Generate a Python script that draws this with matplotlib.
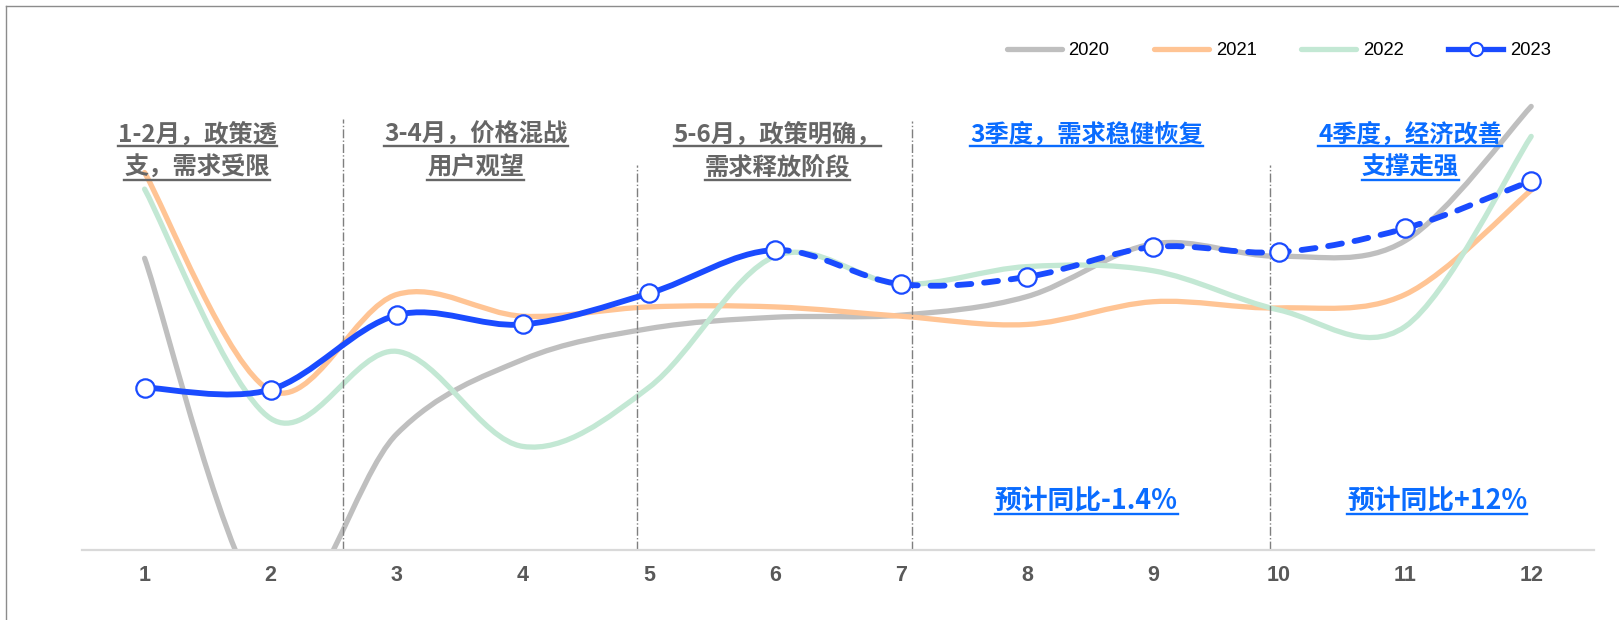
import numpy as np
import matplotlib
matplotlib.use("Agg")
import matplotlib.pyplot as plt
from matplotlib.path import Path
from matplotlib.patches import PathPatch
from matplotlib.lines import Line2D

plt.rcParams['font.family'] = ['Noto Sans CJK SC', 'DejaVu Sans']

# 月度数据（相对指数）
months = list(range(1, 13))
month_labels = [str(m) for m in months]
years = ['2020', '2021', '2022', '2023']
sales_2020 = [28.2, -6.0, 11.2, 18.4, 21.4, 22.5, 22.7, 24.5, 29.6, 28.4, 29.9, 42.9]
sales_2021 = [36.5, 15.4, 24.7, 22.6, 23.5, 23.5, 22.6, 21.8, 24.0, 23.4, 24.7, 34.8]
sales_2022 = [34.9, 12.7, 19.2, 10.0, 15.7, 28.4, 25.7, 27.4, 27.0, 23.2, 21.6, 40.0]
sales_2023 = [15.7, 15.5, 22.7, 21.8, 24.8, 29.0, 25.7, 26.4, 29.3, 28.8, 31.1, 35.7]
last_actual = 6  # 6月以后为预测

# 布局坐标按 1568x600 的参考网格量取
W, H = 1568, 600
GRAY_TXT = '#666666'
BLUE_TXT = '#0A6CFF'
colors = {'2020': '#BFBFBF', '2021': '#FFC494', '2022': '#C3E8D4', '2023': '#1A4BFF'}


def smooth_path(xs, ys, start, end):
    # Excel 风格的平滑线 (Catmull-Rom -> Bezier)
    pts = np.column_stack([xs, ys]).astype(float)
    n = len(pts)
    verts = [pts[start]]
    codes = [Path.MOVETO]
    for i in range(start, end):
        p0 = pts[max(i - 1, 0)]
        p1 = pts[i]
        p2 = pts[i + 1]
        p3 = pts[min(i + 2, n - 1)]
        verts += [p1 + (p2 - p0) / 6, p2 - (p3 - p1) / 6, p2]
        codes += [Path.CURVE4] * 3
    return Path(verts, codes)


fig = plt.figure(figsize=(16.19, 6.2), dpi=100)
ax = fig.add_axes([79 / W, (H - 532) / H, (1544 - 79) / W, (532 - 60) / H])

for yr, vals in zip(years[:3], [sales_2020, sales_2021, sales_2022]):
    p = smooth_path(months, vals, 0, len(months) - 1)
    ax.add_patch(PathPatch(p, fill=False, edgecolor=colors[yr], lw=3.8,
                           capstyle='round', joinstyle='round'))

solid = smooth_path(months, sales_2023, 0, last_actual - 1)
dashed = smooth_path(months, sales_2023, last_actual - 1, len(months) - 1)
ax.add_patch(PathPatch(solid, fill=False, edgecolor=colors['2023'], lw=4.2,
                       capstyle='round', zorder=4))
ax.add_patch(PathPatch(dashed, fill=False, edgecolor=colors['2023'], lw=4.2,
                       linestyle=(0, (2.4, 2.2)), capstyle='round', zorder=4))
ax.plot(months, sales_2023, 'o', ms=13.2, mfc='white', mec=colors['2023'],
        mew=1.6, zorder=5)

ax.set_xlim(0.5, 12.5)
ax.set_ylim(0, 47.2)
ax.set_xticks(months)
ax.set_xticklabels(month_labels, fontsize=15.5, fontweight='bold',
                   color='#595959', family=['Liberation Sans', 'DejaVu Sans'])
ax.tick_params(axis='x', length=0, pad=11)
ax.set_yticks([])
for s in ['top', 'left', 'right']:
    ax.spines[s].set_visible(False)
ax.spines['bottom'].set_color('#D9D9D9')
ax.spines['bottom'].set_linewidth(1.6)

# 阶段分隔线
for xd, top in [(2.57, 41.7), (4.91, 37.2), (7.09, 41.5), (9.93, 37.2)]:
    ax.plot([xd, xd], [0, top], color='#7F7F7F', lw=1, ls='-.', zorder=1)

# 图例
handles = [Line2D([], [], color=colors[y], lw=3.8, solid_capstyle='round') for y in years[:3]]
handles.append(Line2D([], [], color=colors['2023'], lw=3.8, marker='o', ms=9.5,
                      mfc='white', mec=colors['2023'], mew=1.5))
fig.legend(handles, years, ncol=4, loc='center right',
           bbox_to_anchor=(1502 / W, 1 - 49 / H), frameon=False,
           prop={'family': 'Liberation Sans', 'size': 13.3},
           handlelength=3.0, handletextpad=0.35, columnspacing=2.4,
           borderpad=0, borderaxespad=0)

# 标注文字（带下划线）
notes = [
    (191, 130, '1-2月，政策透', GRAY_TXT, 17.5),
    (191, 162, '支，需求受限', GRAY_TXT, 17.5),
    (461, 130, '3-4月，价格混战', GRAY_TXT, 17.5),
    (461, 162, '用户观望', GRAY_TXT, 17.5),
    (753, 130, '5-6月，政策明确，', GRAY_TXT, 17.5),
    (753, 162, '需求释放阶段', GRAY_TXT, 17.5),
    (1052, 130, '3季度，需求稳健恢复', BLUE_TXT, 17.5),
    (1366, 130, '4季度，经济改善', BLUE_TXT, 17.5),
    (1366, 162, '支撑走强', BLUE_TXT, 17.5),
    (1052, 484, '预计同比-1.4%', BLUE_TXT, 19.3),
    (1392, 484, '预计同比+12%', BLUE_TXT, 19.3),
]
texts = []
for x, y, s, c, fs in notes:
    t = fig.text(x / W, 1 - y / H, s, ha='center', va='center',
                 fontsize=fs, fontweight='bold', color=c)
    texts.append((t, fs))

fig.canvas.draw()
r = fig.canvas.get_renderer()
for t, fs in texts:
    bb = t.get_window_extent(r)
    yl = (bb.y0 + bb.y1) / 2 - 0.5 * fs * 100 / 72
    fig.add_artist(Line2D([bb.x0 / 1619, bb.x1 / 1619], [yl / 620, yl / 620],
                          color=t.get_color(), lw=1.7))

# 外框
fig.add_artist(Line2D([6 / W, 6 / W], [0, 1 - 6 / H], color='#8C8C8C', lw=1))
fig.add_artist(Line2D([6 / W, 1], [1 - 6 / H, 1 - 6 / H], color='#8C8C8C', lw=1))

fig.savefig('out.png', dpi=100)
